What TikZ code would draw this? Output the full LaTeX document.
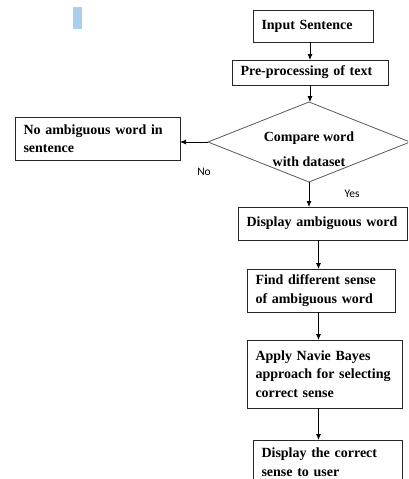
\documentclass[tikz,border=0pt]{standalone}
\usepackage{fontspec}
\setmainfont{Liberation Serif}
\newfontfamily\labelfont{Carlito}
\usetikzlibrary{shapes.geometric,arrows.meta}
\definecolor{cursorblue}{RGB}{171,205,240}

\begin{document}
\begin{tikzpicture}[x=1pt, y=-1pt,
        stepbox/.style={draw=black!85, line width=0.8pt, anchor=north west, inner xsep=8.5pt, inner ysep=2pt, outer sep=0pt, align=left, font=\fontsize{14}{18.5}\selectfont\bfseries},
        decision/.style={draw=black!65, line width=0.8pt, diamond, aspect=2.5, minimum width=202pt, minimum height=80pt, inner sep=0pt, outer sep=0pt},
        flow/.style={-{Latex[length=6pt,width=5pt]}, line width=0.8pt},
        answer/.style={font=\labelfont\fontsize{11.5}{13}\selectfont}]
        \useasboundingbox (0,0) rectangle (408,479);
        \clip (0,0) rectangle (408,479);

        \fill[cursorblue] (73,7) rectangle (82,29);

        \node[stepbox, text width=103pt, minimum height=32pt] (inp) at (253,10) {Input Sentence};
        \node[stepbox, text width=139pt, minimum height=25pt] (pre) at (232,60) {Pre-processing of text};
        \node[decision] (cmp) at (309,142) {};
        \node[font=\fontsize{14}{18.5}\selectfont\bfseries, align=center] (cmptxt) at (309,149) {Compare word\\[7pt]with dataset};
        \node[stepbox, text width=148pt, minimum height=43pt] (nobox) at (15,117) {No ambiguous word in\\sentence};
        \node[stepbox, text width=152pt, minimum height=33pt] (disp) at (238,207) {Display ambiguous word};
        \node[stepbox, text width=131pt, minimum height=43pt] (find) at (247,269) {Find different sense\\of ambiguous word};
        \node[stepbox, text width=138pt, minimum height=68pt] (apply) at (247,340) {Apply Navie Bayes\\approach for selecting\\correct sense};
        \node[stepbox, text width=132pt, minimum height=44pt] (corr) at (253,440) {Display the correct\\sense to user};

        \draw[flow] (pre.north |- inp.south) -- (pre.north);
        \draw[flow] (pre.south) -- (pre.south |- cmp.north);
        \draw[flow] (cmp.west) -- (cmp.west -| nobox.east);
        \draw[flow] (cmp.south) -- (cmp.south |- disp.north);
        \node[answer] (no) at (204,172) {No};
        \node[answer] (yes) at (352,194) {Yes};

        \coordinate (ax) at (318.5,0);
        \foreach \a/\b in {disp/find, find/apply, apply/corr} {
            \draw[flow] (ax |- \a.south) -- (ax |- \b.north);
        }
    \end{tikzpicture}
\end{document}
